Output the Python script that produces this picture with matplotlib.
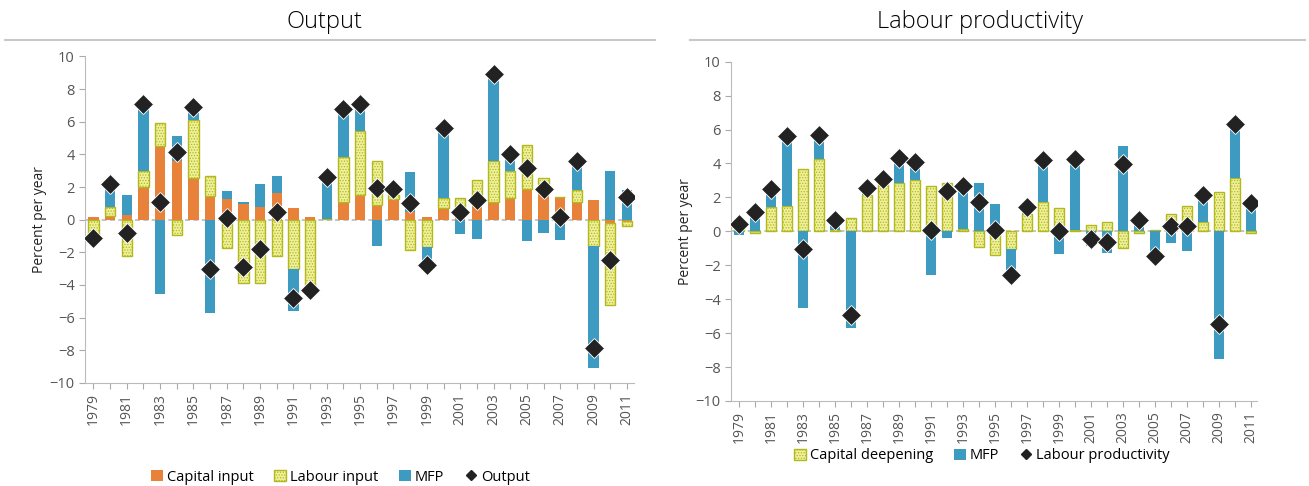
"""
Growth accounting charts: output and labour productivity contributions.
"""

import matplotlib.pyplot as plt
import numpy as np
from matplotlib.lines import Line2D
from matplotlib.patches import Patch

years = list(range(1979, 2012))

# Output decomposition (percent per year)
capital_input = [0.15, 0.2, 0.3, 2.0, 4.5, 3.6, 2.55, 1.45, 1.25, 0.95, 0.75, 1.65, 0.7,
                 0.15, 0.05, 1.1, 1.5, 0.9, 1.25, 0.5, 0.15, 0.7, 0.5, 1.2, 1.1, 1.3,
                 1.85, 2.2, 1.4, 1.1, 1.2, -0.2, -0.1]
labour_input = [-1.25, 0.55, -2.2, 0.95, 1.4, -0.95, 3.55, 1.25, -1.75, -3.9, -3.9, -2.25,
                -3.05, -4.45, 0.0, 2.75, 3.9, 2.7, 0.25, -1.85, -1.65, 0.65, 0.8, 1.25,
                2.5, 1.7, 2.75, 0.35, 0.0, 0.7, -1.6, -5.05, -0.3]
mfp_output = [0.0, 1.45, 1.2, 4.15, -4.55, 1.5, 0.7, -5.7, 0.5, 0.15, 1.45, 1.05, -2.55,
              0.0, 2.55, 2.9, 1.7, -1.6, 0.4, 2.4, -1.15, 4.25, -0.85, -1.2, 5.3, 1.0,
              -1.3, -0.8, -1.25, 1.8, -7.5, 3.0, 1.8]
output = [-1.1, 2.2, -0.8, 7.1, 1.1, 4.15, 6.9, -3.05, 0.1, -2.9, -1.8, 0.45, -4.8,
          -4.3, 2.6, 6.75, 7.1, 1.95, 1.9, 1.05, -2.8, 5.6, 0.5, 1.2, 8.9, 4.0, 3.15,
          1.85, 0.15, 3.6, -7.85, -2.45, 1.4]

# Labour productivity decomposition (percent per year)
capital_deepening = [0.65, -0.1, 1.45, 1.5, 3.7, 4.25, 0.1, 0.8, 2.15, 2.9, 2.85, 3.05,
                     2.7, 2.85, 0.15, -0.9, -1.4, -1.05, 1.0, 1.75, 1.4, 0.1, 0.4, 0.55,
                     -1.0, -0.1, 0.05, 1.0, 1.5, 0.55, 2.3, 3.15, -0.1]
mfp_lp = [-0.2, 1.4, 1.05, 4.1, -4.5, 1.45, 0.6, -5.7, 0.4, 0.2, 1.45, 1.05, -2.55, -0.4,
          2.55, 2.85, 1.6, -1.55, 0.45, 2.45, -1.35, 4.15, -0.85, -1.25, 5.05, 0.75,
          -1.45, -0.7, -1.15, 1.65, -7.5, 3.15, 1.75]
labour_productivity = [0.45, 1.15, 2.5, 5.6, -1.05, 5.7, 0.65, -4.95, 2.55, 3.1, 4.3, 4.1,
                       0.05, 2.4, 2.7, 1.75, 0.05, -2.6, 1.45, 4.2, 0.0, 4.25, -0.45,
                       -0.65, 3.95, 0.65, -1.45, 0.3, 0.3, 2.15, -5.45, 6.3, 1.65]

ORANGE = "#E8823A"
BLUE = "#3D9BC1"
YELLOW = "#EEF09C"
OLIVE = "#B3B81C"
GREY = "#555555"

plt.rcParams["font.family"] = ["Open Sans", "DejaVu Sans"]
plt.rcParams["hatch.color"] = OLIVE
plt.rcParams["hatch.linewidth"] = 0.6

STYLES = {
    "orange": dict(color=ORANGE, linewidth=0),
    "blue": dict(color=BLUE, linewidth=0),
    "hatch": dict(facecolor=YELLOW, edgecolor=OLIVE, hatch="......", linewidth=1.0),
}


def stacked_bars(ax, x, series, width):
    """Stack positive and negative parts of each series separately."""
    pos = np.zeros(len(x))
    neg = np.zeros(len(x))
    for values, style in series:
        values = np.asarray(values, dtype=float)
        bottom = np.where(values >= 0, pos, neg)
        ax.bar(x, values, width, bottom=bottom, zorder=2, **STYLES[style])
        pos = pos + np.clip(values, 0, None)
        neg = neg + np.clip(values, None, 0)


def format_axes(ax, x):
    ax.set_ylim(-10, 10)
    ax.set_xlim(-0.5, len(x) - 0.6)
    ax.set_yticks(np.arange(-10, 11, 2))
    ax.set_xticks(x)
    ax.set_xticklabels([str(y) if (y - 1979) % 2 == 0 else "" for y in years],
                       rotation=90, fontsize=10, color=GREY)
    ax.tick_params(axis="y", labelsize=10.5, colors=GREY, length=4, color="#AAAAAA")
    ax.tick_params(axis="x", length=4, color="#AAAAAA")
    for side in ("top", "right"):
        ax.spines[side].set_visible(False)
    for side in ("left", "bottom"):
        ax.spines[side].set_color("#BBBBBB")
    ax.axhline(0, color="#BBBBBB", linestyle=(0, (3, 2)), linewidth=1.2, zorder=1)
    ax.set_ylabel("Percent per year", fontsize=10, color="#222222", labelpad=2)


fig = plt.figure(figsize=(13.09, 4.86), dpi=100)
x = np.arange(len(years))

# Output panel
ax1 = fig.add_axes([0.065, 0.212, 0.419, 0.672])
stacked_bars(ax1, x, [(capital_input, "orange"), (labour_input, "hatch"),
                      (mfp_output, "blue")], 0.62)
ax1.plot(x, output, "D", color="#222222", markersize=10.5, markeredgecolor="white",
         markeredgewidth=0.6, zorder=3)
format_axes(ax1, x)

# Labour productivity panel
ax2 = fig.add_axes([0.5584, 0.175, 0.402, 0.698])
stacked_bars(ax2, x, [(capital_deepening, "hatch"), (mfp_lp, "blue")], 0.62)
ax2.plot(x, labour_productivity, "D", color="#222222", markersize=10, markeredgecolor="white",
         markeredgewidth=0.6, zorder=3)
format_axes(ax2, x)

# Titles with rules underneath
fig.text(0.248, 0.955, "Output", ha="center", va="center", fontsize=17, fontweight="light")
fig.text(0.749, 0.955, "Labour productivity", ha="center", va="center", fontsize=17,
         fontweight="light")
fig.add_artist(Line2D([0.004, 0.5], [0.918, 0.918], color="#C8C8C8", linewidth=1.5))
fig.add_artist(Line2D([0.527, 0.997], [0.918, 0.918], color="#C8C8C8", linewidth=1.5))

# Legends
diamond = dict(marker="D", color="#222222", linestyle="none", markersize=5)
handles1 = [
    Patch(**STYLES["orange"], label="Capital input"),
    Patch(**STYLES["hatch"], label="Labour input"),
    Patch(**STYLES["blue"], label="MFP"),
    Line2D([], [], label="Output", **diamond),
]
fig.legend(handles=handles1, loc="center", bbox_to_anchor=(0.26, 0.018), ncol=4,
           frameon=False, fontsize=10.5, handlelength=0.8, handleheight=0.8,
           handletextpad=0.3, columnspacing=1.4)
handles2 = [
    Patch(**STYLES["hatch"], label="Capital deepening"),
    Patch(**STYLES["blue"], label="MFP"),
    Line2D([], [], label="Labour productivity", **diamond),
]
fig.legend(handles=handles2, loc="center", bbox_to_anchor=(0.75, 0.062), ncol=3,
           frameon=False, fontsize=10.5, handlelength=0.8, handleheight=0.8,
           handletextpad=0.3, columnspacing=1.4)

fig.savefig("out.png", dpi=100)
